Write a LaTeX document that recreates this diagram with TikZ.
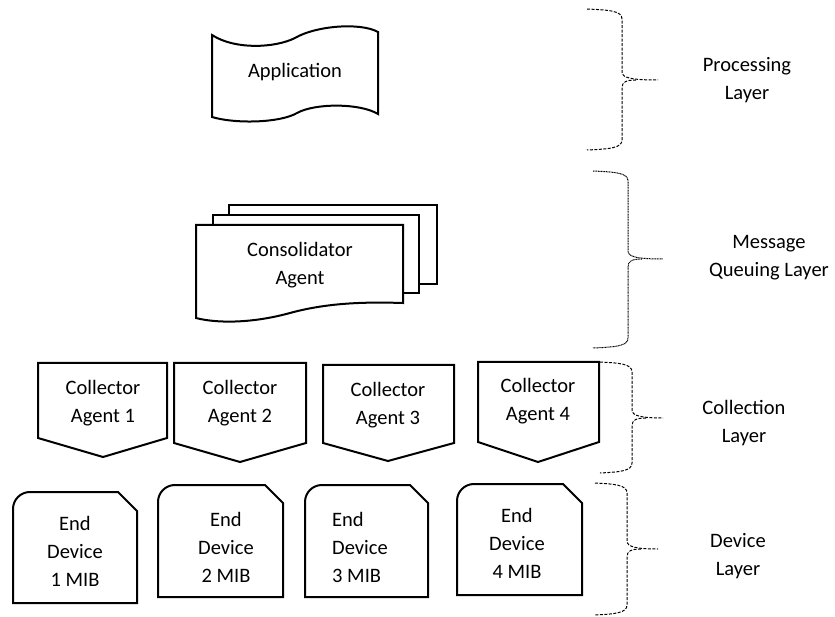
\documentclass[tikz,border=0pt]{standalone}
\usepackage{fontspec}
\setmainfont{Carlito}
\newcommand\layerbrace[7]{%
  \draw[#7] (#1,#4) .. controls ({#2-12},{#4+1}) and (#2,{#4+2}) .. (#2,{#4+10})
     -- (#2,{#5-8}) .. controls (#2,{#5-2}) and ({#2+10},#5) .. (#3,#5);
  \draw[#7] ({#2+14},#5) .. controls ({#2+4},#5) and (#2,{#5+2}) .. (#2,{#5+8})
     -- (#2,{#6-10}) .. controls (#2,{#6-2}) and ({#2-12},{#6-1}) .. (#1,#6);
}
\newcommand\collectorshape[6]{%
  \draw[shapeline] (#1,#3) -- (#2,#3) -- (#2,#4) -- (#5,#6) -- (#1,#4) -- cycle;
}
\newcommand\deviceshape[7]{%
  \draw[shapeline] (#1,#4) -- (#1,{#3+17}) arc[start angle=180, end angle=270, radius=17]
     -- (#5,#3) -- (#2,#6) -- (#2,#4) -- cycle;
}
\begin{document}
\begin{tikzpicture}[x=1pt,y=-1pt,
  shapeline/.style={draw=black,line width=2pt,fill=white,line join=miter},
  lbl/.style={font=\fontsize{20.5}{28}\selectfont,align=center,inner sep=0pt},
  bracedash/.style={line width=1pt,dash pattern=on 3pt off 1.5pt},
  bracedot/.style={line width=1pt,dash pattern=on 1pt off 0.6pt}]
\useasboundingbox (0,0) rectangle (835,617);

% Application (punched tape)
\draw[shapeline] (212,35) .. controls (235,50) and (275,48) .. (295,38)
   .. controls (315,26) and (360,22) .. (378,32) -- (378,114)
   .. controls (360,103) and (315,103) .. (297,113)
   .. controls (280,123) and (235,124) .. (212,117) -- cycle;
\node[lbl] (app) at (295,72) {Application};

% Consolidator Agent (multi-document)
\draw[shapeline] (229,205) rectangle (437,284);
\draw[shapeline] (213,215) rectangle (419,293);
\draw[shapeline] (196,225) -- (403,225) -- (403,303)
   .. controls (370,302) and (330,302) .. (290,313)
   .. controls (250,324) and (215,323) .. (196,318) -- cycle;
\node[lbl] (cons) at (300,265) {Consolidator\\Agent};

% Collector agents
\collectorshape{38}{167}{363}{438}{103}{457}
\collectorshape{174}{306}{363}{443}{240}{462}
\collectorshape{323}{454}{365}{443}{388}{461}
\collectorshape{478}{599}{362}{442}{538}{462}
\node[lbl] (ca1) at (103,403) {Collector\\Agent 1};
\node[lbl] (ca2) at (240,403) {Collector\\Agent 2};
\node[lbl] (ca3) at (388,405) {Collector\\Agent 3};
\node[lbl] (ca4) at (538,401) {Collector\\Agent 4};

% End devices
\deviceshape{13}{137}{492}{603}{118}{511}{}
\deviceshape{158}{283}{485}{597}{265}{503}{}
\deviceshape{305}{428}{485}{597}{410}{503}{}
\deviceshape{457}{582}{484}{595}{563}{503}{}
\node[lbl] (ed1) at (75,551) {End\\Device\\1 MIB};
\node[lbl] (ed2) at (226,547) {End\\Device\\2 MIB};
\node[lbl,align=left,anchor=west] (ed3) at (332,547) {End\\Device\\3 MIB};
\node[lbl] (ed4) at (517,543) {End\\Device\\4 MIB};

% Layer braces
\layerbrace{587}{622}{658}{9}{80}{150}{bracedash}
\layerbrace{593}{628}{663}{171}{259}{348}{bracedot}
\layerbrace{600}{632}{663}{362}{418}{473}{bracedash}
\layerbrace{595}{627}{658}{483}{549}{615}{bracedash}

% Layer labels
\node[lbl] (lp) at (747,80) {Processing\\Layer};
\node[lbl] (lm) at (769,258) {Message\\Queuing Layer};
\node[lbl] (lc) at (744,423) {Collection\\Layer};
\node[lbl] (ld) at (738,556) {Device\\Layer};
\end{tikzpicture}
\end{document}
